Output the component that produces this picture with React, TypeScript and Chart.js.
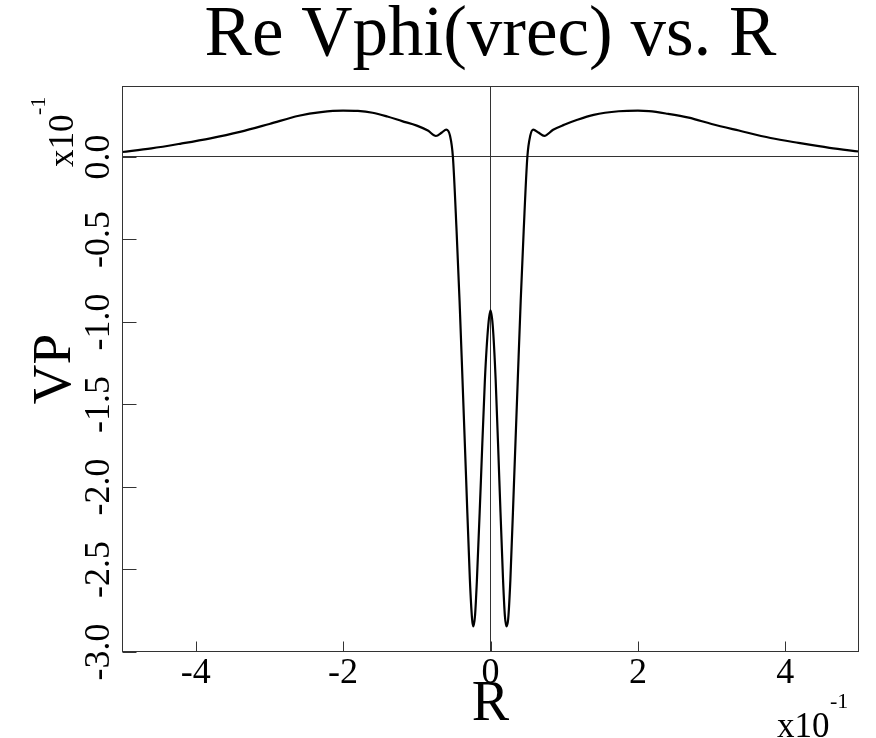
import React, { useEffect, useRef } from "react";
import { Chart, registerables } from "chart.js";

Chart.register(...registerables);

const TITLE = "Re Vphi(vrec) vs. R";
const X_LABEL = "R";
const Y_LABEL = "VP";
const MULTIPLIER = "x10";
const EXPONENT = "-1";
const X_TICKS = [-4, -2, 0, 2, 4];
const Y_TICKS = [-3.0, -2.5, -2.0, -1.5, -1.0, -0.5, 0.0];
const X_MIN = -5;
const X_MAX = 5;
const Y_MIN = -3.0;
const Y_MAX = 0.43;

const R_VALUES = [
  -5.0, -4.6, -4.2, -3.8, -3.4, -3.0, -2.6, -2.3, -2.0, -1.8, -1.6, -1.4, -1.2, -1.0,
  -0.85, -0.74, -0.66, -0.6, -0.55, -0.51, -0.46, -0.42, -0.38, -0.33, -0.28, -0.25,
  -0.234, -0.21, -0.184, -0.13, -0.076, -0.03, 0.0, 0.03, 0.07, 0.12, 0.17, 0.195,
  0.217, 0.24, 0.27, 0.32, 0.37, 0.41, 0.45, 0.5, 0.54, 0.58, 0.65, 0.73, 0.85, 1.0,
  1.16, 1.4, 1.74, 2.0, 2.15, 2.4, 2.69, 3.0, 3.37, 3.8, 4.18, 4.6, 5.0,
];
const VP_VALUES = [
  0.03, 0.052, 0.081, 0.113, 0.152, 0.2, 0.25, 0.272, 0.281, 0.279, 0.268, 0.245, 0.217, 0.19,
  0.16, 0.127, 0.148, 0.166, 0.13, 0.0, -0.45, -0.87, -1.35, -1.96, -2.56, -2.8,
  -2.845, -2.78, -2.56, -1.96, -1.35, -1.02, -0.93, -1.02, -1.35, -1.96, -2.56, -2.78,
  -2.845, -2.8, -2.56, -1.96, -1.35, -0.87, -0.45, 0.0, 0.13, 0.166, 0.148, 0.128, 0.165, 0.195,
  0.222, 0.255, 0.277, 0.281, 0.278, 0.262, 0.238, 0.2, 0.16, 0.115, 0.085, 0.055, 0.033,
];

const SERIF = '"Liberation Serif", "Times New Roman", serif';

const framePlugin = {
  id: "frame",
  afterDraw(chart: any) {
    const { ctx, chartArea: a, scales } = chart;
    ctx.save();
    ctx.strokeStyle = "#333";
    ctx.lineWidth = 1;
    const l = Math.round(a.left) + 0.5;
    const r = Math.round(a.right) - 0.5;
    const t = Math.round(a.top) + 0.5;
    const b = Math.round(a.bottom) - 0.5;
    ctx.strokeRect(l, t, r - l, b - t);
    ctx.beginPath();
    scales.x.ticks.forEach((tk: any) => {
      const px = Math.round(scales.x.getPixelForValue(tk.value)) + 0.5;
      ctx.moveTo(px, b);
      ctx.lineTo(px, b - 10);
    });
    scales.y.ticks.forEach((tk: any) => {
      const py = Math.round(scales.y.getPixelForValue(tk.value)) + 0.5;
      ctx.moveTo(l, py);
      ctx.lineTo(l + 14, py);
    });
    ctx.stroke();

    ctx.fillStyle = "#000";
    ctx.textAlign = "left";
    ctx.textBaseline = "alphabetic";
    // x multiplier
    ctx.font = `35px ${SERIF}`;
    ctx.fillText(MULTIPLIER, a.right - 82, a.bottom + 85);
    ctx.font = `22px ${SERIF}`;
    ctx.fillText(EXPONENT, a.right - 29, a.bottom + 56);
    // y multiplier (rotated)
    ctx.save();
    ctx.translate(a.left - 49, a.top + 81);
    ctx.rotate(-Math.PI / 2);
    ctx.font = `35px ${SERIF}`;
    ctx.fillText(MULTIPLIER, 0, 0);
    ctx.restore();
    ctx.save();
    ctx.translate(a.left - 77, a.top + 29);
    ctx.rotate(-Math.PI / 2);
    ctx.font = `22px ${SERIF}`;
    ctx.fillText(EXPONENT, 0, 0);
    ctx.restore();
    ctx.restore();
  },
};

export default function App() {
  const ref = useRef<HTMLCanvasElement | null>(null);
  useEffect(() => {
    if (!ref.current) return;
    const points = R_VALUES.map((x, i) => ({ x, y: VP_VALUES[i] }));
    const zeroColor = (c: any) => (c.tick && c.tick.value === 0 ? "#333" : "rgba(0,0,0,0)");
    const chart = new Chart(ref.current, {
      type: "line",
      data: {
        datasets: [
          {
            data: points,
            borderColor: "#000",
            borderWidth: 2.2,
            pointRadius: 0,
            fill: false,
            cubicInterpolationMode: "monotone",
          },
        ],
      },
      options: {
        responsive: false,
        animation: false,
        layout: { padding: { left: 0, right: 17, top: 0, bottom: 0 } },
        plugins: {
          legend: { display: false },
          tooltip: { enabled: false },
          title: {
            display: true,
            text: TITLE,
            fullSize: false,
            color: "#000",
            font: { family: SERIF, size: 71, weight: "normal", lineHeight: 1 },
            padding: { top: 1, bottom: 14 },
          },
        },
        scales: {
          x: {
            type: "linear",
            min: X_MIN,
            max: X_MAX,
            afterBuildTicks: (s: any) => {
              s.ticks = X_TICKS.map((v) => ({ value: v }));
            },
            afterFit: (s: any) => {
              s.height = 86;
            },
            border: { display: false },
            grid: { drawTicks: false, color: zeroColor, lineWidth: 1 },
            ticks: {
              color: "#000",
              font: { family: SERIF, size: 36, lineHeight: 1.2 },
              padding: 0,
              maxRotation: 0,
              callback: (v: any) => String(v),
            },
            title: {
              display: true,
              text: X_LABEL,
              color: "#000",
              font: { family: SERIF, size: 56, lineHeight: 1 },
              padding: { top: 0, bottom: 5 },
            },
          },
          y: {
            type: "linear",
            min: Y_MIN,
            max: Y_MAX,
            afterBuildTicks: (s: any) => {
              s.ticks = Y_TICKS.map((v) => ({ value: v }));
            },
            afterFit: (s: any) => {
              s.width = 122;
            },
            border: { display: false },
            grid: { drawTicks: false, color: zeroColor, lineWidth: 1 },
            ticks: {
              color: "#000",
              font: { family: SERIF, size: 36, lineHeight: 1.2 },
              padding: -6,
              minRotation: 90,
              maxRotation: 90,
              crossAlign: "center",
              callback: (v: any) => Number(v).toFixed(1),
            },
            title: {
              display: true,
              text: Y_LABEL,
              color: "#000",
              font: { family: SERIF, size: 55, lineHeight: 1 },
              padding: { top: 28, bottom: 0 },
            },
          },
        },
      },
      plugins: [framePlugin],
    } as any);
    return () => chart.destroy();
  }, []);
  return (
    <div style={{ position: "absolute", left: 0, top: 0, width: 876, height: 738, background: "#fff" }}>
      <canvas ref={ref} width={876} height={738} />
    </div>
  );
}
